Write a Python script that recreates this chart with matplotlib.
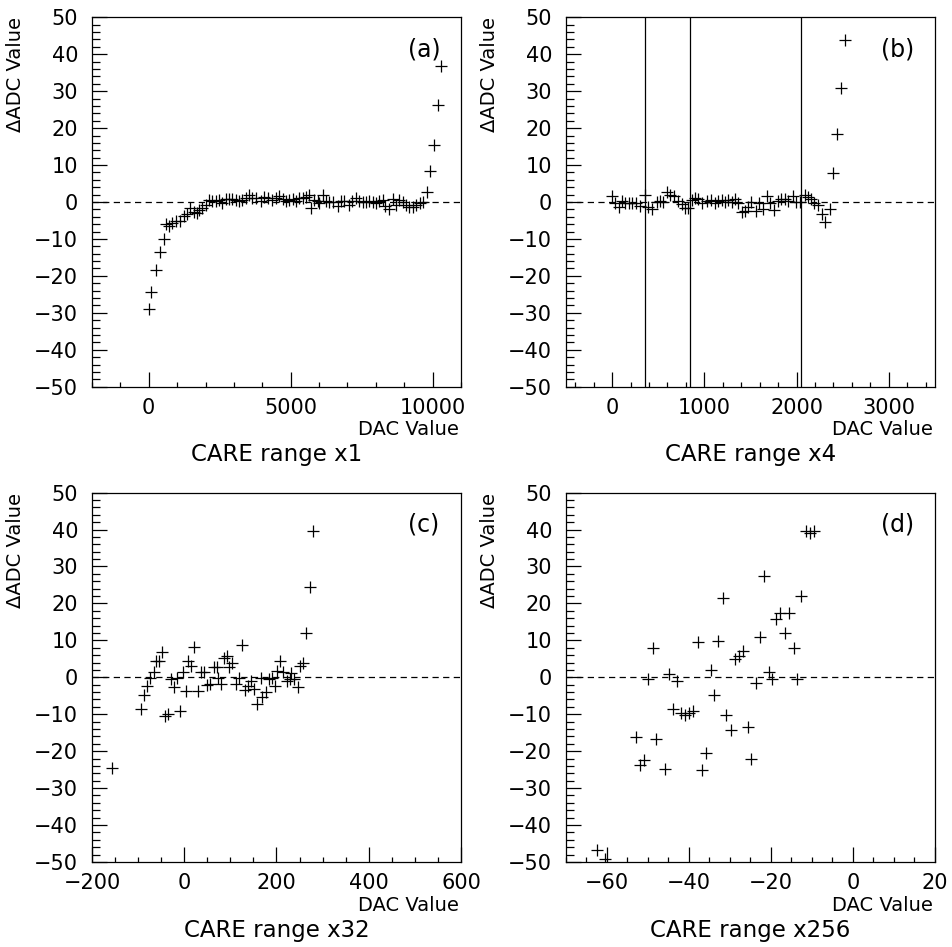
import matplotlib
matplotlib.use('Agg')
import matplotlib.pyplot as plt
from matplotlib.ticker import MultipleLocator

plt.rcParams['font.family'] = ['DejaVu Sans']

# panel (a) CARE range x1
a_x = [0, 95, 260, 390, 530, 625, 730, 835, 965, 1095, 1235, 1355, 1470, 1590,
       1710, 1765, 1885, 2000, 2120, 2240, 2360, 2475, 2595, 2710, 2830, 2950,
       3065, 3185, 3300, 3420, 3535, 3655, 3770, 3950, 4070, 4185, 4360, 4480,
       4600, 4715, 4835, 4950, 5070, 5185, 5300, 5420, 5540, 5655, 5715, 5830,
       5950, 6010, 6125, 6245, 6360, 6480, 6655, 6775, 6890, 7045, 7160, 7300,
       7420, 7535, 7655, 7770, 7890, 8005, 8125, 8240, 8335, 8475, 8595, 8710,
       8830, 8950, 9065, 9185, 9300, 9420, 9540, 9655, 9800, 9920, 10060, 10190,
       10310]
a_y = [-29.0, -24.3, -18.4, -13.6, -10.0, -6.0, -6.4, -5.8, -5.1, -5.1, -3.8,
       -3.3, -1.7, -2.6, -3.1, -2.2, -1.7, -0.8, 0.5, 0.2, 0.2, 0.5, -0.2, 0.7,
       0.9, 0.7, 0.5, 0.2, 0.5, 1.2, 2.0, 1.1, 1.2, 0.2, 1.4, 1.1, 0.5, 1.1, 1.6,
       0.9, 0.2, 0.5, 0.7, 0.2, 1.1, 1.2, 1.4, 1.8, -1.7, 0.5, 0.4, -0.2, 1.8,
       0.2, 0.1, -0.1, -1.1, 0.4, 0.2, -0.8, 0.2, 1.1, 0.2, 0.1, -0.1, 0.2, -0.1,
       -0.2, 0.2, 0.5, -1.1, -1.9, 0.7, -0.9, 0.5, 0.1, -0.8, -1.3, -1.4, -0.7,
       -0.2, 0.1, 2.7, 8.5, 15.3, 26.2, 36.9]

# panel (b) CARE range x4
b_x = [0, 29, 72, 108, 144, 180, 216, 259, 306, 360, 388, 431, 485, 522, 550,
       593, 630, 666, 719, 755, 792, 827, 863, 900, 935, 978, 1025, 1072, 1115,
       1151, 1187, 1223, 1259, 1295, 1331, 1367, 1410, 1439, 1475, 1510, 1558,
       1593, 1636, 1680, 1715, 1755, 1798, 1834, 1870, 1906, 1960, 1996, 2032,
       2086, 2122, 2157, 2194, 2230, 2276, 2313, 2362, 2395, 2438, 2478, 2521]
b_y = [1.7, -0.2, -1.3, 0.4, -0.4, -0.4, -0.4, -0.4, -1.1, 1.9, -1.3, -2.0, 0.1,
       0.4, 0.1, 2.8, 1.9, 1.6, 0.4, -0.6, -1.5, -1.5, 0.5, 1.0, 0.7, -0.2, 0.4,
       0.5, -0.4, 0.4, 0.5, 0.1, 0.5, 0.1, 0.7, -0.2, -2.6, -2.4, -1.4, 0.1, -2.4,
       -0.2, -2.0, 1.7, -0.4, -2.2, 0.4, 0.7, 0.7, 0.4, 1.6, 0.1, 0.1, 1.9, 1.4,
       0.7, -0.4, -0.8, -3.3, -5.5, -2.0, 7.8, 18.3, 31.0, 43.8]
b_lines = [360, 846, 2043]

# panel (c) CARE range x32
c_x = [-157, -93.5, -87.6, -80.5, -73.4, -66, -61, -54, -48, -41.7, -34.5,
       -28.7, -22.9, -15.8, -9.9, -3.5, 3.7, 8.6, 14.5, 21.6, 28.9, 36, 41.9,
       49, 56, 63.5, 70.6, 73.4, 80.7, 86.3, 93.7, 97.1, 104.5, 111.6, 118.7,
       126, 131, 138.1, 145.5, 151, 158.4, 165.5, 169.2, 176.3, 183.5, 189.3,
       195.8, 201.6, 208.7, 214.5, 223.2, 228.8, 232.5, 239, 246, 250.4, 257.7,
       264.8, 272, 279.3]
c_y = [-24.5, -8.6, -4.8, -2.3, -0.3, 1.4, 4.5, 4.5, 6.9, -10.4, -9.9, -0.5,
       -2.7, -0.3, -9.2, 1.4, -3.6, 4.5, 3.0, 8.1, -3.6, 1.5, 1.4, -2.1, -1.8,
       2.7, 2.7, -0.3, -1.8, 5.2, 5.8, 2.7, 3.8, -1.8, -0.3, 8.8, -3.4, -2.4,
       -0.9, -3.2, -7.2, -0.3, -5.4, -3.9, -0.5, -0.3, -2.3, 1.8, 4.5, 1.5, -0.9,
       -0.5, 1.2, -0.5, -2.7, 3.0, 3.9, 12.0, 24.5, 39.5]

# panel (d) CARE range x256
d_x = [-62.5, -60.6, -52.9, -52.0, -50.9, -50.0, -48.8, -48.0, -45.9, -44.9,
       -43.8, -42.9, -42.0, -41.0, -40.0, -38.9, -37.7, -36.9, -35.9, -34.7,
       -33.9, -32.8, -31.8, -30.9, -29.8, -28.7, -27.7, -26.8, -25.7, -24.8,
       -23.7, -22.7, -21.6, -20.6, -19.7, -18.8, -17.9, -16.6, -15.7, -14.4,
       -13.7, -12.6, -11.4, -10.6, -9.6]
d_y = [-46.8, -49.2, -16.1, -23.7, -22.3, -0.5, 7.8, -16.7, -24.8, 0.9, -8.6,
       -0.9, -9.7, -10.1, -9.7, -9.0, 9.5, -25.1, -20.5, 2.1, -4.8, 9.9, 21.4,
       -10.1, -14.4, 4.9, 5.8, 7.0, -13.5, -22.1, -1.6, 11.0, 27.5, 1.4, -0.5,
       15.8, 17.3, 12.0, 17.3, 7.9, -0.5, 22.1, 39.5, 39.2, 39.5]

panels = [
    (a_x, a_y, (-2000, 11000), 5000, 1000, '(a)', 'CARE range x1'),
    (b_x, b_y, (-500, 3500), 1000, 200, '(b)', 'CARE range x4'),
    (c_x, c_y, (-200, 600), 200, 50, '(c)', 'CARE range x32'),
    (d_x, d_y, (-70, 20), 20, 5, '(d)', 'CARE range x256'),
]

fig = plt.figure(figsize=(9.52, 9.47), dpi=100)
lefts = [0.0966, 0.5945]
bottoms = [0.5917, 0.0898]
w, h = 0.3876, 0.390
fs = 15

for i, (xs, ys, xlim, major, minor, tag, title) in enumerate(panels):
    ax = fig.add_axes([lefts[i % 2], bottoms[i // 2], w, h])
    ax.plot(xs, ys, '+', color='black', markersize=8.5, markeredgewidth=0.9)
    ax.axhline(0, color='black', lw=0.9, dashes=(5, 3.5))
    if i == 1:
        for xv in b_lines:
            ax.axvline(xv, color='black', lw=0.9)
    ax.set_xlim(*xlim)
    ax.set_ylim(-50, 50)
    ax.xaxis.set_major_locator(MultipleLocator(major))
    ax.xaxis.set_minor_locator(MultipleLocator(minor))
    ax.yaxis.set_major_locator(MultipleLocator(10))
    ax.yaxis.set_minor_locator(MultipleLocator(2))
    ax.tick_params(which='both', direction='in', top=False, right=False,
                   labelsize=fs, width=0.9)
    ax.tick_params(axis='y', which='major', length=11, pad=10)
    ax.tick_params(axis='y', which='minor', length=5.5)
    ax.tick_params(axis='x', which='major', length=11, pad=8)
    ax.tick_params(axis='x', which='minor', length=3.5)
    for sp in ax.spines.values():
        sp.set_linewidth(0.9)
    ax.text(0.9, 0.914, tag, transform=ax.transAxes, ha='center', va='center',
            fontsize=fs + 2)
    ax.text(-0.207, 1.0, '\u0394ADC Value', transform=ax.transAxes, rotation=90,
            ha='center', va='top', fontsize=fs - 1)
    ax.text(0.995, -0.117, 'DAC Value', transform=ax.transAxes, ha='right',
            va='center', fontsize=fs - 1)
    ax.text(0.5, -0.185, title, transform=ax.transAxes, ha='center',
            va='center', fontsize=fs + 1.5)

fig.savefig('out.png', dpi=100)
